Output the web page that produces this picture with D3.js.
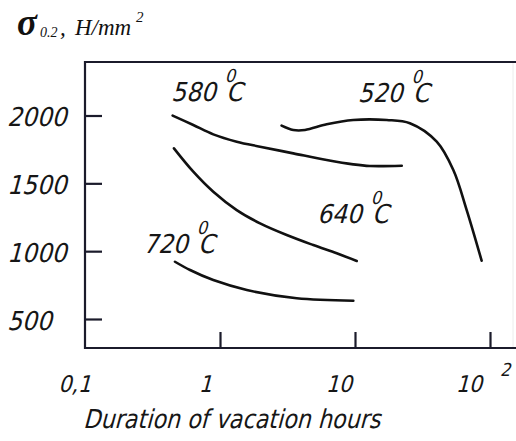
<!DOCTYPE html>
<html>
<head>
<meta charset="utf-8">
<script src="https://cdn.jsdelivr.net/npm/d3@7"></script>
<style>
  body { margin: 0; background: #fff; }
  .gost { font-family: "DejaVu Sans Condensed", "DejaVu Sans", sans-serif; font-stretch: condensed; fill: #161616; }
  .serif { font-family: "Liberation Serif", "Times New Roman", serif; font-style: italic; fill: #111; }
</style>
</head>
<body>
<div id="chart"></div>
<script>
// chart data (hours on a log axis, yield strength in N/mm2)
var yTicks = [500, 1000, 1500, 2000];
var xTicks = [0.1, 1, 10, 100];
var xTickLabels = ["0,1", "1", "10", "10"];

var hours580 = [0.446, 0.634, 0.892, 1.33, 1.98, 3.49, 6.17, 9.7, 12.9, 22.2];
var sigma580 = [1999, 1930, 1861, 1807, 1770, 1721, 1672, 1640, 1628, 1630];

var hours520 = [2.86, 3.49, 4.26, 6.17, 9.7, 17.2, 25.5, 40.3, 53.5, 67.2, 86.7];
var sigma520 = [1925, 1893, 1893, 1935, 1967, 1967, 1943, 1807, 1598, 1303, 930];

var hours640 = [0.456, 0.634, 0.892, 1.33, 1.98, 3.12, 4.91, 7.32, 10.3];
var sigma640 = [1758, 1586, 1438, 1303, 1205, 1119, 1045, 984, 928];

var hours720 = [0.464, 0.6, 0.892, 1.58, 3.7, 9.72];
var sigma720 = [922, 861, 787, 714, 653, 635];

// temperature labels and where they sit (data units)
var tempLabels = ["580", "520", "640", "720"];
var labelHours = [0.434, 10.5, 5.23, 0.269];
var labelSigma = [2107, 2100, 1208, 987];

var svgWidth = 516;
var svgHeight = 441;
var slant = -15;

var svg = d3.select("#chart")
  .append("svg")
  .attr("width", svgWidth)
  .attr("height", svgHeight);

// scales
var x = d3.scaleLog().domain([0.1, 100]).range([85, 490]);
var y = d3.scaleLinear().domain([500, 2000]).range([319, 115.5]);

var frameTop = 62;
var frameBottom = 348;
var frameRight = 516;
var axisColor = "#1b1b2b";

// drafting-style slanted text
function slanted(px, py) {
  return `translate(${px},${py}) skewX(${slant})`;
}

// faint edge of the original scan
svg.append("line")
  .attr("x1", 513).attr("x2", 513)
  .attr("y1", frameTop).attr("y2", frameBottom)
  .attr("stroke", "#ececec")
  .attr("stroke-width", 1);

// frame: left, top and bottom lines
svg.append("path")
  .attr("d", `M${frameRight},${frameTop}H${x(0.1)}V${frameBottom}H${frameRight}`)
  .attr("fill", "none")
  .attr("stroke", axisColor)
  .attr("stroke-width", 2.2);

// y ticks pointing inward
var leftAxis = d3.axisLeft(y).tickValues(yTicks).tickSize(-17).tickFormat("");
var yAxis = svg.append("g")
  .attr("transform", `translate(${x(0.1)},0)`)
  .call(leftAxis);
yAxis.select(".domain").remove();
yAxis.selectAll("line").attr("stroke", axisColor).attr("stroke-width", 2.2);

// x ticks pointing up
var bottomAxis = d3.axisBottom(x).tickValues(xTicks.slice(1)).tickSize(-16).tickFormat("");
var xAxis = svg.append("g")
  .attr("transform", `translate(0,${frameBottom})`)
  .call(bottomAxis);
xAxis.select(".domain").remove();
xAxis.selectAll("line").attr("stroke", axisColor).attr("stroke-width", 2.2);

// y tick labels
svg.selectAll(".ylab")
  .data(yTicks)
  .enter()
  .append("text")
  .attr("class", "gost ylab")
  .attr("transform", d => slanted(7, y(d) + 10.5))
  .attr("font-size", 26)
  .text(d => d);

// x tick labels, right end near each tick
var xShift = [6, -8, -3, -8];
svg.selectAll(".xlab")
  .data(xTicks)
  .enter()
  .append("text")
  .attr("class", "gost xlab")
  .attr("transform", (d, i) => slanted(x(d) + xShift[i], 392))
  .attr("text-anchor", "end")
  .attr("font-size", 23)
  .text((d, i) => xTickLabels[i]);

// exponent of 10^2
svg.append("text")
  .attr("class", "gost")
  .attr("transform", slanted(x(100) + 10, 376))
  .attr("font-size", 18)
  .text("2");

// x axis title
svg.append("text")
  .attr("class", "gost")
  .attr("transform", slanted(83, 428))
  .attr("font-size", 26)
  .attr("textLength", 297)
  .attr("lengthAdjust", "spacingAndGlyphs")
  .text("Duration of vacation hours");

// y axis title
var yTitle = svg.append("text")
  .attr("class", "serif")
  .attr("y", 35);
yTitle.append("tspan").attr("x", 17).attr("font-size", 37).attr("font-weight", "bold").text("σ");
yTitle.append("tspan").attr("x", 40).attr("y", 36.7).attr("font-size", 14).text("0.2");
yTitle.append("tspan").attr("x", 60).attr("y", 35).attr("font-size", 23).text(",");
yTitle.append("tspan").attr("x", 75).attr("font-size", 23).text("H/mm");
yTitle.append("tspan").attr("x", 136).attr("y", 21.7).attr("font-size", 15).text("2");

// curves
var series = [
  [hours580, sigma580],
  [hours520, sigma520],
  [hours640, sigma640],
  [hours720, sigma720]
];

var line = d3.line()
  .x(d => x(d[0]))
  .y(d => y(d[1]))
  .curve(d3.curveCatmullRom.alpha(0.5));

svg.selectAll(".curve")
  .data(series)
  .enter()
  .append("path")
  .attr("class", "curve")
  .attr("d", s => line(d3.zip(s[0], s[1])))
  .attr("fill", "none")
  .attr("stroke", "#111")
  .attr("stroke-width", 2.6)
  .attr("stroke-linecap", "round");

// temperature labels
var tl = svg.selectAll(".temp")
  .data(tempLabels)
  .enter()
  .append("text")
  .attr("class", "gost temp")
  .attr("transform", (d, i) => slanted(x(labelHours[i]), y(labelSigma[i])))
  .attr("font-size", 26);
tl.append("tspan").text(d => d);
tl.append("tspan").attr("font-size", 18).attr("dx", 4).attr("dy", -19).text("0");
tl.append("tspan").attr("dx", -4).attr("dy", 19).text("C");
</script>
</body>
</html>
